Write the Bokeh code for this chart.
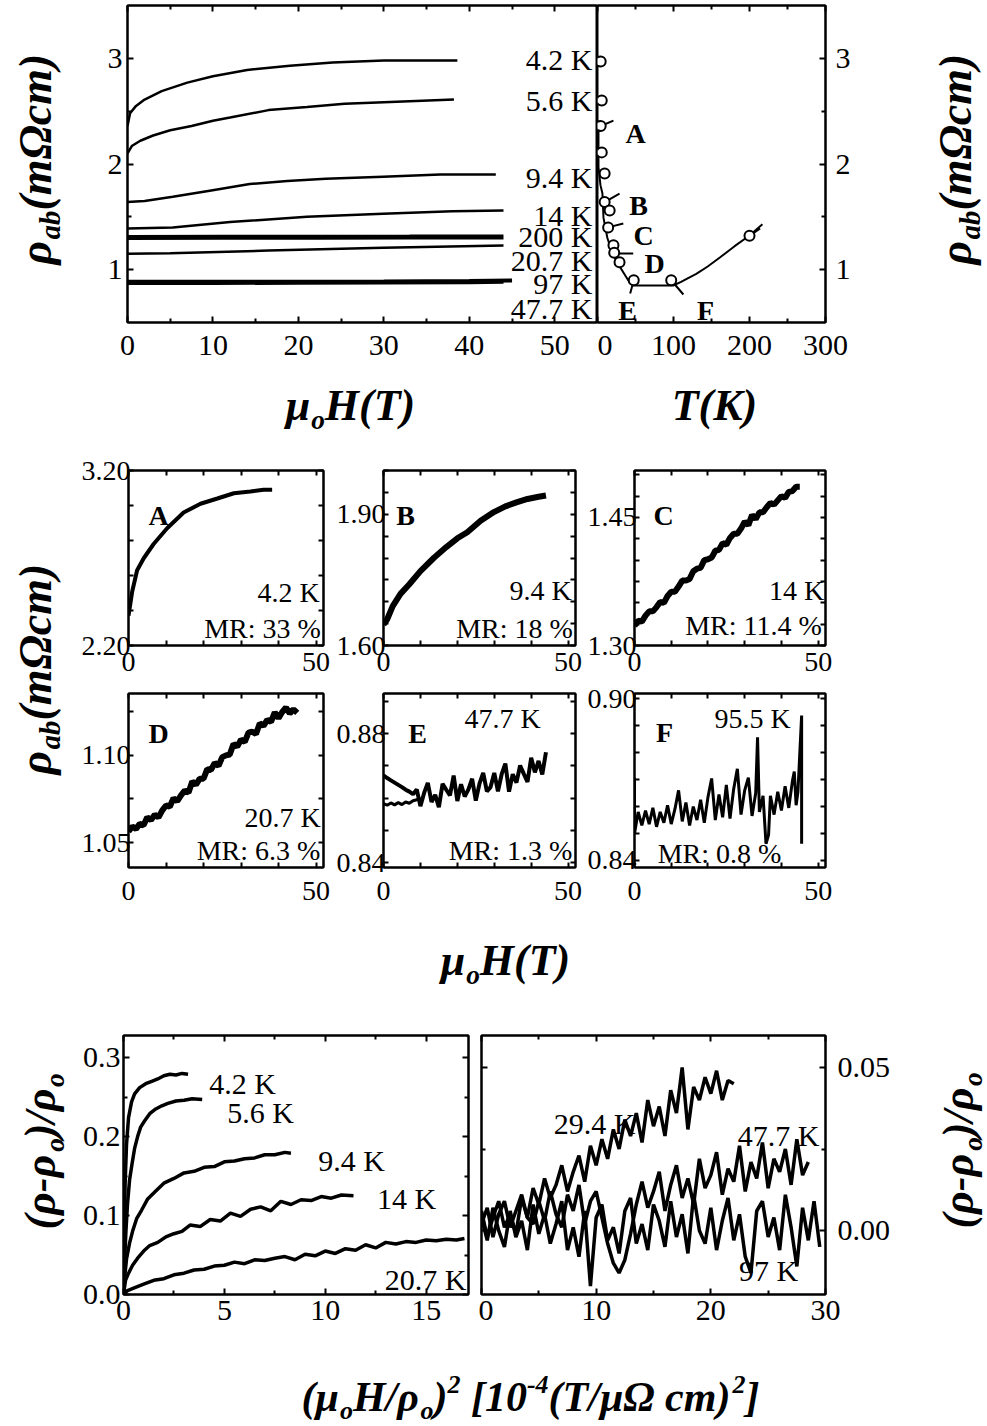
from math import pi
from bokeh.plotting import figure
from bokeh.models import Range1d, LinearAxis, FixedTicker, Label
from bokeh.layouts import row, column
from bokeh.embed import file_html
from bokeh.resources import INLINE

SERIF = "Liberation Serif"

# ---------------------------------------------------------------- data
# top-left panel: rho_ab (mOhm cm) versus mu0 H (T)
TL_H_4K2 = [0, 0.3, 1, 2, 4, 7, 10, 14, 19, 24, 30, 38.6]
TL_R_4K2 = [2.36, 2.48, 2.55, 2.61, 2.69, 2.77, 2.83, 2.89, 2.93, 2.96, 2.98, 2.98]
TL_H_5K6 = [0, 0.5, 1.5, 3, 5, 7.5, 10, 12, 16.5, 21, 25.4, 30, 38.2]
TL_R_5K6 = [2.10, 2.17, 2.22, 2.27, 2.32, 2.36, 2.41, 2.44, 2.51, 2.54, 2.57, 2.585, 2.61]
TL_H_9K4 = [0, 2, 5.3, 9.8, 14.3, 18.7, 23.2, 29.9, 36.6, 43.1]
TL_R_9K4 = [1.64, 1.65, 1.69, 1.75, 1.81, 1.84, 1.86, 1.88, 1.90, 1.90]
TL_H_14K = [0, 5.3, 12, 21, 29.9, 38, 44]
TL_R_14K = [1.39, 1.40, 1.45, 1.50, 1.53, 1.553, 1.56]
TL_H_200K = [0, 11, 22, 33, 44]
TL_R_200K = [1.305, 1.306, 1.307, 1.308, 1.31]
TL_H_20K7 = [0, 5, 16.5, 29.9, 44]
TL_R_20K7 = [1.15, 1.155, 1.181, 1.207, 1.229]
TL_H_97K = [0, 10, 20, 30, 40, 45]
TL_R_97K = [0.885, 0.885, 0.886, 0.887, 0.892, 0.897]
TL_H_47K7 = [0, 10, 20, 30, 40, 44]
TL_R_47K7 = [0.873, 0.874, 0.876, 0.878, 0.882, 0.886]
TL_LABELS = ["4.2 K", "5.6 K", "9.4 K", "14 K", "200 K", "20.7 K", "97 K", "47.7 K"]

# top-right panel: rho_ab versus T (K)
RT_T = [1.3, 1.3, 3.9, 6.5, 7.9, 13, 19.7, 30, 40.6, 47, 99.6, 110, 118, 130, 145, 161, 180, 200, 217]
RT_R = [2.41, 1.97, 1.80, 1.72, 1.49, 1.30, 1.153, 1.02, 0.897, 0.85, 0.85, 0.885, 0.916, 0.96,
        1.03, 1.115, 1.22, 1.323, 1.43]
CIR_T = [4.2, 5.6, 4.2, 5.6, 9.4, 9.4, 16, 14, 21, 22, 29, 47.7, 97, 200]
CIR_R = [2.97, 2.60, 2.36, 2.11, 1.91, 1.64, 1.56, 1.40, 1.23, 1.16, 1.07, 0.90, 0.90, 1.32]
MK_T0 = [4.2, 9.4, 14, 21, 47.7, 97, 200]
MK_R0 = [2.36, 1.64, 1.40, 1.153, 0.90, 0.90, 1.32]
MK_T1 = [21, 29, 34, 47, 43, 113, 214]
MK_R1 = [2.41, 1.72, 1.437, 1.153, 0.774, 0.765, 1.39]
MK_LETTERS = ["A", "B", "C", "D", "E", "F"]

# middle panels A-F: rho_ab versus mu0 H
MID_X = [0, 1, 2, 3, 4, 5, 6, 7, 8, 9, 10, 11, 12, 13, 14, 15, 16, 17, 18, 19, 20, 21, 22,
         23, 24, 25, 26, 27, 28, 29, 30, 31, 32, 33, 34, 35, 36, 37, 38, 39, 40, 41, 42, 43, 44, 45]
A_H = [0, 0.5, 1.0, 2.3, 4.1, 6.7, 10.3, 14.7, 19.2, 23.7, 28.1, 32.5, 36, 38.3]
A_R = [2.37, 2.44, 2.51, 2.63, 2.70, 2.78, 2.87, 2.96, 3.01, 3.04, 3.07, 3.08, 3.09, 3.09]
B_H = [0, 1, 2.5, 4.6, 7, 10, 13.6, 17, 20, 22.7, 26.3, 29.9, 33, 36, 39, 42, 44]
B_R = [1.648, 1.66, 1.69, 1.718, 1.74, 1.77, 1.80, 1.825, 1.845, 1.859, 1.885, 1.905, 1.918,
       1.927, 1.935, 1.94, 1.943]
C_R = [1.323, 1.329, 1.328, 1.335, 1.340, 1.340, 1.345, 1.351, 1.350, 1.358, 1.363, 1.363, 1.369,
       1.376, 1.376, 1.378, 1.387, 1.390, 1.391, 1.400, 1.401, 1.403, 1.411, 1.412, 1.420, 1.418,
       1.426, 1.431, 1.431, 1.437, 1.445, 1.441, 1.453, 1.448, 1.456, 1.456, 1.462, 1.467, 1.465,
       1.470, 1.475, 1.473, 1.480, 1.481, 1.486, 1.486]
D_R = [1.0566, 1.0593, 1.058, 1.0608, 1.06, 1.0645, 1.063, 1.066, 1.0645, 1.0685, 1.0713, 1.0706,
       1.0754, 1.0737, 1.077, 1.0798, 1.0786, 1.0849, 1.0832, 1.0865, 1.0865, 1.092, 1.0915,
       1.0955, 1.0938, 1.0988, 1.0998, 1.1003, 1.1063, 1.1048, 1.1088, 1.1075, 1.1127, 1.1133,
       1.1119, 1.118, 1.1166, 1.12, 1.1189, 1.1243, 1.121, 1.1245, 1.127, 1.1237, 1.126, 1.124]
E_R_UP = [0.867, 0.8662, 0.8655, 0.8648, 0.8641, 0.8634, 0.8626, 0.862, 0.8612, 0.8627, 0.8575,
          0.8616, 0.8647, 0.8588, 0.861, 0.8572, 0.8644, 0.8626, 0.8608, 0.867, 0.8591, 0.8643,
          0.8605, 0.8627, 0.866, 0.8592, 0.8645, 0.8678, 0.8621, 0.8634, 0.8678, 0.8621, 0.8674,
          0.8707, 0.862, 0.8674, 0.8648, 0.8701, 0.8675, 0.865, 0.8725, 0.868, 0.8715, 0.8673,
          0.8742]
E_H_LOW = [0, 1, 2, 3, 4, 5, 6, 7, 8, 9, 10]
E_R_LOW = [0.8583, 0.8578, 0.8585, 0.8579, 0.8586, 0.858, 0.8588, 0.8584, 0.8592, 0.8595, 0.860]
F_H = [0, 0, 1, 2, 3, 4, 5, 6, 7, 8, 9, 10, 11, 12, 13, 14, 15, 16, 17, 18, 19, 20, 21, 22, 23,
       24, 25, 26, 27, 28, 29, 30, 31, 32, 33, 33.5, 34, 35, 35.8, 36.5, 37, 38, 39, 40, 41, 42,
       43, 43.5, 44, 44.5, 45.5, 45.5, 45.5]
F_R = [0.8707, 0.850, 0.858, 0.853, 0.8585, 0.8535, 0.8595, 0.8525, 0.858, 0.854, 0.8605,
       0.8535, 0.859, 0.866, 0.8545, 0.8615, 0.853, 0.86, 0.855, 0.8625, 0.854, 0.8635, 0.8704,
       0.855, 0.8645, 0.856, 0.868, 0.8555, 0.8665, 0.874, 0.857, 0.866, 0.8707, 0.8565, 0.865,
       0.8857, 0.858, 0.864, 0.8462, 0.8495, 0.864, 0.857, 0.8655, 0.8585, 0.8675, 0.8595,
       0.8695, 0.873, 0.8605, 0.8655, 0.8937, 0.8462, 0.862]

# bottom-left: (rho-rho0)/rho0 versus (mu0 H / rho0)^2
BL_X_4K2 = [0, 0.03, 0.08, 0.15, 0.25, 0.4, 0.55, 0.8, 1.1, 1.4, 1.7, 2.0, 2.3, 2.6, 2.9, 3.2]
BL_Y_4K2 = [0, 0.07, 0.14, 0.19, 0.224, 0.244, 0.254, 0.262, 0.267, 0.27, 0.273, 0.277, 0.279,
            0.278, 0.28, 0.279]
BL_X_5K6 = [0, 0.05, 0.12, 0.2, 0.3, 0.42, 0.55, 0.7, 0.85, 1.05, 1.3, 1.6, 1.9, 2.2, 2.6, 3.0,
            3.4, 3.9]
BL_Y_5K6 = [0, 0.04, 0.08, 0.115, 0.145, 0.165, 0.185, 0.2, 0.212, 0.22, 0.229, 0.235, 0.239,
            0.242, 0.245, 0.246, 0.248, 0.247]
BL_X_9K4 = [0, 0.05, 0.15, 0.3, 0.45, 0.65, 0.9, 1.2, 1.6, 2.0, 2.5, 3.0, 3.5, 4.0, 4.5, 5.0,
            5.5, 6.0, 6.5, 7.0, 7.5, 8.0, 8.3]
BL_Y_9K4 = [0, 0.02, 0.045, 0.065, 0.08, 0.096, 0.107, 0.121, 0.131, 0.141, 0.147, 0.154, 0.156,
            0.161, 0.162, 0.168, 0.169, 0.172, 0.173, 0.177, 0.177, 0.18, 0.179]
BL_X_14K = [0, 0.1, 0.25, 0.45, 0.7, 1.0, 1.3, 1.7, 2.1, 2.5, 2.9, 3.3, 3.8, 4.3, 4.8, 5.3, 5.8,
            6.3, 6.8, 7.3, 7.8, 8.3, 8.8, 9.3, 9.8, 10.3, 10.8, 11.4]
BL_Y_14K = [0, 0.018, 0.027, 0.037, 0.046, 0.055, 0.062, 0.066, 0.073, 0.077, 0.08, 0.088, 0.086,
            0.095, 0.093, 0.103, 0.099, 0.108, 0.111, 0.106, 0.118, 0.114, 0.12, 0.119, 0.124,
            0.122, 0.126, 0.125]
BL_X_20K7 = [0, 0.2, 0.5, 1, 1.5, 2, 2.5, 3, 3.5, 4, 4.5, 5, 5.5, 6, 6.5, 7, 7.5, 8, 8.5, 9, 9.5,
             10, 10.5, 11, 11.5, 12, 12.5, 13, 13.5, 14, 14.5, 15, 15.5, 16, 16.5, 16.9]
BL_Y_20K7 = [0, 0.005, 0.008, 0.013, 0.018, 0.02, 0.025, 0.027, 0.031, 0.032, 0.036, 0.037, 0.041,
             0.039, 0.044, 0.043, 0.046, 0.048, 0.044, 0.051, 0.049, 0.055, 0.052, 0.058, 0.056,
             0.063, 0.059, 0.066, 0.064, 0.067, 0.066, 0.069, 0.068, 0.07, 0.069, 0.071]
BL_LABELS = ["4.2 K", "5.6 K", "9.4 K", "14 K", "20.7 K"]

# bottom-right: (rho-rho0)/rho0 versus (mu0 H / rho0)^2
BR_X = [0, 0.5, 1, 1.5, 2, 2.5, 3, 3.5, 4, 4.5, 5, 5.5, 6, 6.5, 7, 7.5, 8, 8.5, 9, 9.5, 10, 10.5,
        11, 11.5, 12, 12.5, 13, 13.5, 14, 14.5, 15, 15.5, 16, 16.5, 17, 17.5, 18, 18.5, 19, 19.5,
        20, 20.5, 21, 21.5, 22, 22.5, 23, 23.5, 24, 24.5, 25, 25.5, 26, 26.5, 27, 27.5, 28, 28.5,
        29, 29.5]
BR_Y_29K4 = [0.002, 0.007, -0.002, 0.005, 0.009, 0.001, 0.006, 0.011, 0.004, 0.013,
             0.008, 0.016, 0.01, 0.014, 0.02, 0.012, 0.018, 0.023, 0.015, 0.026,
             0.02, 0.028, 0.022, 0.031, 0.025, 0.034, 0.029, 0.036, 0.027, 0.04,
             0.032, 0.038, 0.029, 0.043, 0.036, 0.05, 0.031, 0.044, 0.04, 0.047,
             0.042, 0.049, 0.04, 0.046, 0.045]
BR_Y_47K7 = [0.006, -0.002, 0.004, 0.009, 0.001, 0.005, -0.001, 0.01, 0.004, 0.002,
             0.009, 0.003, 0.012, 0.005, 0.001, 0.011, 0.006, 0.014, 0.002, 0.009,
             0.012, 0.004, -0.004, -0.01, -0.013, -0.009, -0.001, 0.008, 0.015, 0.007,
             0.012, 0.018, 0.006, 0.014, 0.02, 0.01, 0.016, 0.008, 0.022, 0.013,
             0.017, 0.024, 0.011, 0.019, 0.015, 0.026, 0.012, 0.021, 0.016, 0.027,
             0.013, 0.022, 0.018, 0.025, 0.014, 0.028, 0.017, 0.021]
BR_Y_97K = [0.004, -0.003, 0.007, 0.0, -0.005, 0.006, -0.002, 0.003, -0.006, 0.008,
            -0.001, 0.005, -0.004, 0.002, 0.009, -0.006, 0.001, -0.008, 0.006, -0.017,
            0.004, 0.008, -0.003, 0.001, -0.007, 0.006, 0.01, -0.004, 0.002, -0.006,
            0.008, 0.003, -0.005, 0.009, -0.002, 0.005, -0.007, 0.011, 0.0, -0.004,
            0.007, -0.006, 0.003, 0.01, -0.003, 0.005, -0.008, -0.013, 0.006, 0.009,
            -0.002, 0.004, -0.006, 0.011, 0.001, -0.011, 0.007, -0.003, 0.009, -0.005]
BR_LABELS = ["29.4 K", "47.7 K", "97 K"]


# ---------------------------------------------------------------- helpers
def mkfig(x0, y0, w, h, bl=0, br=0, bt=0, bb=0, xr=(0, 1), yr=(0, 1), framed=True):
    p = figure(width=w, height=h, x_range=Range1d(*xr), y_range=Range1d(*yr),
               toolbar_location=None, output_backend="svg",
               x_axis_location=None, y_axis_location=None,
               min_border_left=bl, min_border_right=br,
               min_border_top=bt, min_border_bottom=bb)
    p.grid.visible = False
    p.background_fill_color = "white"
    p.border_fill_color = "white"
    if framed:
        p.outline_line_color = "black"
        p.outline_line_width = 2
    else:
        p.outline_line_color = None
    return (p, x0 + bl, y0 + h - bb)


def key(t):
    return int(t) if float(t).is_integer() else t


def add_axis(fr, side, ticks, labels=None, minor=(), size=30, standoff=6, tin=6, mtin=4):
    p = fr[0]
    ax = LinearAxis(ticker=FixedTicker(ticks=list(ticks), minor_ticks=list(minor)))
    ax.axis_line_color = "black"
    ax.axis_line_width = 2
    ax.major_tick_line_color = "black"
    ax.major_tick_line_width = 2
    ax.minor_tick_line_color = "black"
    ax.minor_tick_line_width = 2
    ax.major_tick_in = tin
    ax.major_tick_out = 0
    ax.minor_tick_in = mtin
    ax.minor_tick_out = 0
    if labels is None:
        labels = [""] * len(ticks)
        ax.major_label_text_font_size = "0px"
        ax.major_label_standoff = 0
    else:
        ax.major_label_text_font_size = f"{size}px"
        ax.major_label_standoff = standoff
    ax.major_label_overrides = {key(t): s for t, s in zip(ticks, labels)}
    ax.major_label_text_font = SERIF
    ax.major_label_text_color = "black"
    p.add_layout(ax, side)


def txt(fr, x, y, s, size=30, style="normal", align="center", baseline="middle", angle=0.0):
    p, fl, fb = fr
    p.add_layout(Label(x=x - fl, y=fb - y, x_units="screen", y_units="screen", text=s,
                       text_font=SERIF, text_font_size=f"{size:.1f}px",
                       text_font_style=style, text_align=align, text_baseline=baseline,
                       angle=angle, text_color="black"))


W = {"ρ": 0.55, "a": 0.5, "b": 0.5, "(": 0.333, ")": 0.333, "m": 0.778, "Ω": 0.77,
     "c": 0.444, "-": 0.333, "o": 0.5, "/": 0.278, "μ": 0.58, "H": 0.778, "T": 0.611,
     "K": 0.667, " ": 0.25, "[": 0.333, "]": 0.333}


def tw(s, size):
    return sum(W.get(ch, 0.5) for ch in s) * size


def rich(fr, cx, cy, pieces, size, vertical=False):
    segs = []
    for t, k in pieces:
        s = size if k == 0 else size * 0.62
        shift = 0 if k == 0 else (-0.2 * size if k < 0 else 0.42 * size)
        lead = len(t) - len(t.lstrip(" "))
        core = t.strip(" ")
        segs.append((core, s, shift, tw(" " * lead, size), tw(core, s)))
    total = sum(sg[3] + sg[4] for sg in segs)
    pos = -total / 2
    for t, s, shift, lead, w in segs:
        pos += lead
        off = 0.34 * size - shift - 0.34 * s
        if vertical:
            txt(fr, cx + off, cy - pos, t, s, "bold italic", "left", "middle", angle=pi / 2)
        else:
            txt(fr, cx + pos, cy + off, t, s, "bold italic", "left", "middle")
        pos += w


RHO_AB = [("ρ", 0), ("ab", -1), ("(mΩcm)", 0)]
MU0H = [("μ", 0), ("o", -1), ("H(T)", 0)]
DRHO = [("(ρ-ρ", 0), ("o", -1), (")/ρ", 0), ("o", -1)]
XSQ = [("(μ", 0), ("o", -1), ("H/ρ", 0), ("o", -1), (")", 0), ("2", 1), (" [10", 0),
       ("-4", 1), ("(T/μΩ cm)", 0), ("2", 1), ("]", 0)]

# ---------------------------------------------------------------- top section
# (plots in one row get their frames aligned, so the title strips use the same borders)
sTL = mkfig(0, 0, 70, 375, 0, 0, 5, 53, framed=False)
tl = mkfig(70, 0, 527, 375, 57, 0, 5, 53, (0, 55), (0.5, 3.5))
tr = mkfig(597, 0, 318, 375, 0, 90, 5, 53, (0, 300), (0.5, 3.5))
sTR = mkfig(915, 0, 72, 375, 0, 0, 5, 53, framed=False)
sTX = mkfig(0, 375, 987, 70, framed=False)

add_axis(tl, "below", [0, 10, 20, 30, 40, 50], ["0", "10", "20", "30", "40", "50"],
         minor=[5, 15, 25, 35, 45, 55], standoff=13)
add_axis(tl, "above", [0, 10, 20, 30, 40, 50], minor=[5, 15, 25, 35, 45, 55])
add_axis(tl, "left", [1, 2, 3], ["1", "2", "3"], minor=[1.5, 2.5], standoff=5)
add_axis(tr, "below", [0, 100, 200, 300], ["0", "100", "200", "300"], minor=[50, 150, 250],
         standoff=13)
add_axis(tr, "above", [0, 100, 200, 300], minor=[50, 150, 250])
add_axis(tr, "right", [1, 2, 3], ["1", "2", "3"], minor=[1.5, 2.5], standoff=10)

p = tl[0]
for hx, ry, lw in [(TL_H_4K2, TL_R_4K2, 2.5), (TL_H_5K6, TL_R_5K6, 2.5), (TL_H_9K4, TL_R_9K4, 2.5),
                   (TL_H_14K, TL_R_14K, 2.5), (TL_H_200K, TL_R_200K, 5),
                   (TL_H_20K7, TL_R_20K7, 2.5), (TL_H_97K, TL_R_97K, 4),
                   (TL_H_47K7, TL_R_47K7, 4)]:
    p.line(hx, ry, line_color="black", line_width=lw)
for lab, yy in zip(TL_LABELS, [59, 100, 177, 215, 236, 260, 283, 308]):
    txt(tl, 592, yy, lab, 30, align="right")

p = tr[0]
p.line(RT_T, RT_R, line_color="black", line_width=2)
p.segment(MK_T0, MK_R0, MK_T1, MK_R1, line_color="black", line_width=2)
p.scatter(CIR_T, CIR_R, marker="circle", size=10, fill_color="white", line_color="black",
          line_width=2)
for lab, (xx, yy) in zip(MK_LETTERS, [(635, 133), (638, 205), (643, 235), (654, 263),
                                      (627, 310), (705, 310)]):
    txt(tr, xx, yy, lab, 28, "bold")

rich(sTL, 35, 158, RHO_AB, 46, vertical=True)
rich(sTR, 955, 158, RHO_AB, 46, vertical=True)
rich(sTX, 350, 405, MU0H, 44)
rich(sTX, 714, 405, [("T(K)", 0)], 44)

# ---------------------------------------------------------------- middle section
tmid = mkfig(0, 445, 70, 555, framed=False)
XR = (0, 52)
A = mkfig(70, 445, 262, 238, 58, 9, 25, 38, XR, (2.2, 3.2))
B = mkfig(332, 445, 252, 238, 51, 9, 25, 38, XR, (1.60, 2.00))
C = mkfig(584, 445, 403, 238, 49, 162, 25, 38, XR, (1.30, 1.505))
D = mkfig(70, 683, 262, 234, 58, 9, 10, 50, XR, (1.036, 1.135))
E = mkfig(332, 683, 252, 234, 51, 9, 10, 50, XR, (0.8385, 0.8924))
F = mkfig(584, 683, 403, 234, 49, 162, 10, 50, XR, (0.8374, 0.9019))
sMX = mkfig(70, 917, 917, 83, framed=False)

MID_YT = {
    "A": ([2.2, 2.4, 2.6, 2.8, 3.0, 3.2], ["2.20", "", "", "", "", "3.20"]),
    "B": ([1.6, 1.65, 1.7, 1.75, 1.8, 1.85, 1.9, 1.95, 2.0],
          ["1.60", "", "", "", "", "", "1.90", "", ""]),
    "C": ([1.3, 1.325, 1.35, 1.375, 1.4, 1.425, 1.45, 1.475, 1.5],
          ["1.30", "", "", "", "", "", "1.45", "", ""]),
    "D": ([1.05, 1.075, 1.1, 1.125], ["1.05", "", "1.10", ""]),
    "E": ([0.84, 0.85, 0.86, 0.87, 0.88, 0.89], ["0.84", "", "", "", "0.88", ""]),
    "F": ([0.84, 0.85, 0.86, 0.87, 0.88, 0.89, 0.9], ["0.84", "", "", "", "", "", "0.90"]),
}
MID_XT = [0, 10, 20, 30, 40, 50]
MID_XL = ["0", "", "", "", "", "50"]
for name, fr, xs in [("A", A, 7), ("B", B, 7), ("C", C, 7),
                     ("D", D, 14), ("E", E, 14), ("F", F, 14)]:
    yt, yl = MID_YT[name]
    add_axis(fr, "below", MID_XT, MID_XL, size=28, standoff=xs, tin=5, mtin=3)
    add_axis(fr, "above", MID_XT, tin=5)
    add_axis(fr, "left", yt, yl, size=28, standoff=-2, tin=5)
    add_axis(fr, "right", yt, tin=5)

A[0].line(A_H, A_R, line_color="black", line_width=4)
B[0].line(B_H, B_R, line_color="black", line_width=6)
C[0].line(MID_X, C_R, line_color="black", line_width=6)
D[0].line(MID_X, D_R, line_color="black", line_width=6)
E[0].line(MID_X[:len(E_R_UP)], E_R_UP, line_color="black", line_width=4)
E[0].line(E_H_LOW, E_R_LOW, line_color="black", line_width=3)
F[0].line(F_H, F_R, line_color="black", line_width=3)

MID_TXT = [
    (A, "A", (158, 515), "4.2 K", (288, 592), "MR: 33 %", (262, 628)),
    (B, "B", (405, 515), "9.4 K", (540, 590), "MR: 18 %", (514, 628)),
    (C, "C", (662, 515), "14 K", (795, 590), "MR: 11.4 %", (752, 625)),
    (D, "D", (158, 733), "20.7 K", (282, 817), "MR: 6.3 %", (258, 850)),
    (E, "E", (417, 733), "47.7 K", (502, 718), "MR: 1.3 %", (510, 850)),
    (F, "F", (663, 732), "95.5 K", (751, 718), "MR: 0.8 %", (718, 853)),
]
for fr, let, lp, tk, tp, mr, mp in MID_TXT:
    txt(fr, lp[0], lp[1], let, 28, "bold")
    txt(fr, tp[0], tp[1], tk, 28)
    txt(fr, mp[0], mp[1], mr, 28)

rich(tmid, 35, 668, RHO_AB, 46, vertical=True)
rich(sMX, 505, 960, MU0H, 44)

# ---------------------------------------------------------------- bottom section
sBL = mkfig(0, 1000, 70, 360, 0, 0, 35, 66, framed=False)
bl = mkfig(70, 1000, 408, 360, 53, 10, 35, 66, (0, 17.1), (0, 0.328))
br = mkfig(478, 1000, 437, 360, 3, 90, 35, 66, (0, 30), (-0.0196, 0.0598))
sBR = mkfig(915, 1000, 72, 360, 0, 0, 35, 66, framed=False)
sBX = mkfig(0, 1360, 987, 66, framed=False)

add_axis(bl, "below", [0, 5, 10, 15], ["0", "5", "10", "15"], minor=[2.5, 7.5, 12.5], standoff=6)
add_axis(bl, "above", [0, 5, 10, 15], minor=[2.5, 7.5, 12.5])
add_axis(bl, "left", [0, 0.1, 0.2, 0.3], ["0.0", "0.1", "0.2", "0.3"], minor=[0.05, 0.15, 0.25],
         standoff=3)
add_axis(bl, "right", [0, 0.1, 0.2, 0.3], minor=[0.05, 0.15, 0.25])
add_axis(br, "below", [0, 10, 20, 30], ["0", "10", "20", "30"], minor=[5, 15, 25], standoff=6)
add_axis(br, "above", [0, 10, 20, 30], minor=[5, 15, 25])
add_axis(br, "right", [0, 0.05], ["0.00", "0.05"], minor=[0.025], standoff=12)
add_axis(br, "left", [0, 0.05], minor=[0.025])

p = bl[0]
for xx, yy in [(BL_X_4K2, BL_Y_4K2), (BL_X_5K6, BL_Y_5K6), (BL_X_9K4, BL_Y_9K4),
               (BL_X_14K, BL_Y_14K), (BL_X_20K7, BL_Y_20K7)]:
    p.line(xx, yy, line_color="black", line_width=3.5)
for lab, (xx, yy) in zip(BL_LABELS, [(242, 1083), (260, 1112), (351, 1160), (406, 1198),
                                     (425, 1279)]):
    txt(bl, xx, yy, lab, 30)

p = br[0]
p.line(BR_X[:len(BR_Y_97K)], BR_Y_97K, line_color="black", line_width=3.5)
p.line(BR_X[:len(BR_Y_47K7)], BR_Y_47K7, line_color="black", line_width=3.5)
p.line(BR_X[:len(BR_Y_29K4)], BR_Y_29K4, line_color="black", line_width=3.5)
for lab, (xx, yy) in zip(BR_LABELS, [(594, 1123), (778, 1135), (768, 1270)]):
    txt(br, xx, yy, lab, 30)

rich(sBL, 40, 1151, DRHO, 44, vertical=True)
rich(sBR, 958, 1150, DRHO, 44, vertical=True)
rich(sBX, 530, 1396, XSQ, 42)

layout = column(
    row(sTL[0], tl[0], tr[0], sTR[0]),
    sTX[0],
    row(tmid[0], column(row(A[0], B[0], C[0]), row(D[0], E[0], F[0]), sMX[0])),
    row(sBL[0], bl[0], br[0], sBR[0]),
    sBX[0],
)

html = file_html(layout, INLINE, title="rho_ab magnetoresistance")
html = html.replace("<body>", '<body style="margin:0;padding:0">', 1)
open("out.html", "w").write(html)
